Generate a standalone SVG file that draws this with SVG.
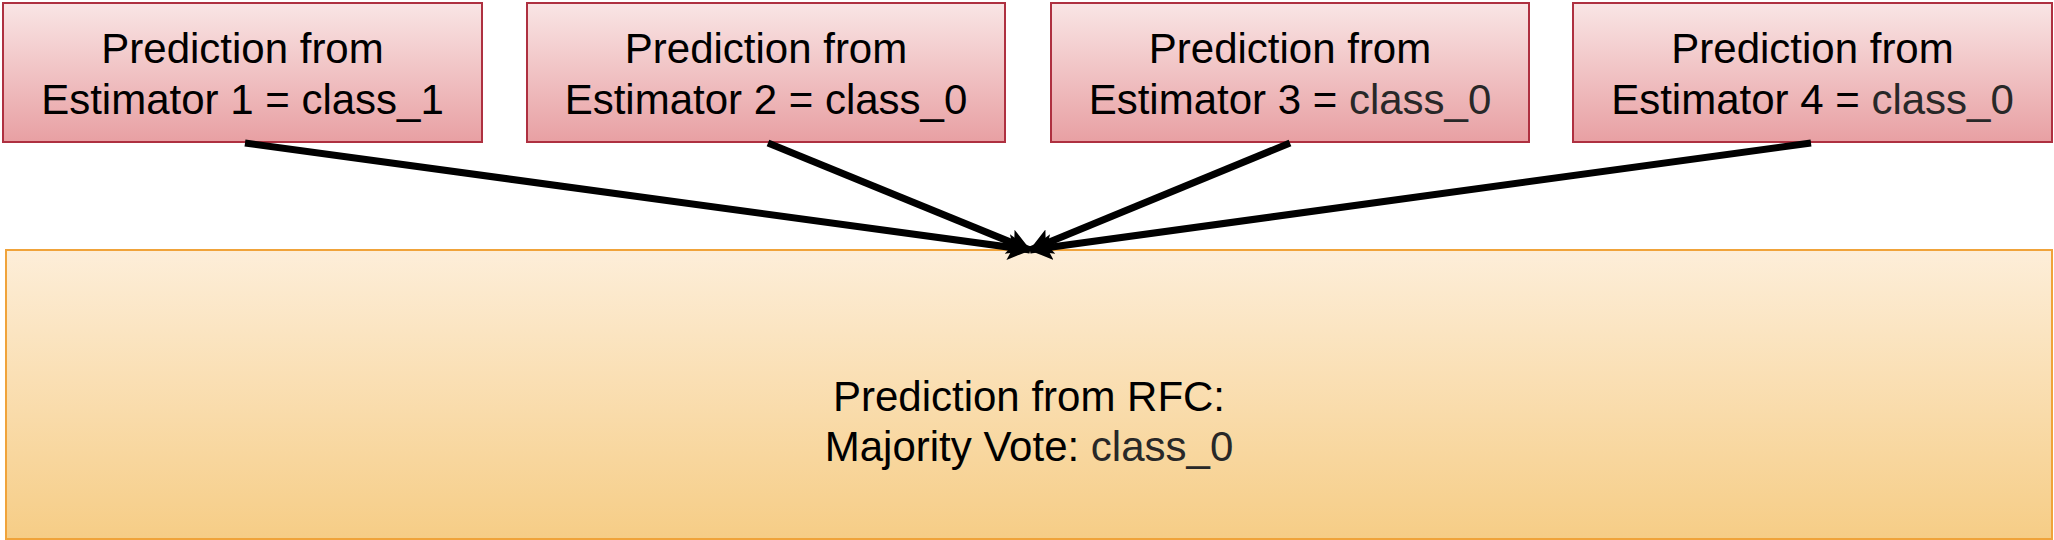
<svg xmlns="http://www.w3.org/2000/svg" width="2054" height="540" viewBox="0 0 2054 540">
  <defs>
    <linearGradient id="gRed" x1="0" y1="0" x2="0" y2="1">
      <stop offset="0" stop-color="#f9e5e5"/>
      <stop offset="1" stop-color="#e8a0a3"/>
    </linearGradient>
    <linearGradient id="gOrange" x1="0" y1="0" x2="0" y2="1">
      <stop offset="0" stop-color="#fdeed9"/>
      <stop offset="1" stop-color="#f6cd86"/>
    </linearGradient>
    <marker id="arrow" markerUnits="userSpaceOnUse" markerWidth="24" markerHeight="28" refX="22" refY="14" orient="auto" viewBox="0 0 24 28">
      <path d="M0,1 L23,14 L0,27 L5,14 Z" fill="#000"/>
    </marker>
  </defs>
  <style>
    .est rect { fill: url(#gRed); stroke: #ae3040; stroke-width: 2; }
    .res rect { fill: url(#gOrange); stroke: #f0a33a; stroke-width: 2; }
    text { font-family: "Liberation Sans", Arial, sans-serif; font-size: 42px; fill: #000; text-anchor: middle; }
    .g { fill: #282828; }
    .conn line { stroke: #000; stroke-width: 7; marker-end: url(#arrow); }
  </style>
  <rect width="2054" height="540" fill="#ffffff"/>

  <g id="result" class="res">
    <rect x="6" y="250" width="2046" height="289"/>
    <text x="1029" y="411">Prediction from RFC:</text>
    <text x="1029" y="461">Majority Vote: <tspan class="g">class_0</tspan></text>
  </g>

  <g id="est1" class="est">
    <rect x="3" y="3" width="479" height="139"/>
    <text x="242.5" y="63">Prediction from</text>
    <text x="242.5" y="114">Estimator 1 = class_1</text>
  </g>
  <g id="est2" class="est">
    <rect x="527" y="3" width="478" height="139"/>
    <text x="766" y="63">Prediction from</text>
    <text x="766" y="114">Estimator 2 = class_0</text>
  </g>
  <g id="est3" class="est">
    <rect x="1051" y="3" width="478" height="139"/>
    <text x="1290" y="63">Prediction from</text>
    <text x="1290" y="114">Estimator 3 = <tspan class="g">class_0</tspan></text>
  </g>
  <g id="est4" class="est">
    <rect x="1573" y="3" width="479" height="139"/>
    <text x="1812.5" y="63">Prediction from</text>
    <text x="1812.5" y="114">Estimator 4 = <tspan class="g">class_0</tspan></text>
  </g>

  <g id="connectors" class="conn">
    <line x1="245" y1="143" x2="1030" y2="250"/>
    <line x1="768" y1="143" x2="1030" y2="250"/>
    <line x1="1290" y1="143" x2="1030" y2="250"/>
    <line x1="1811" y1="143" x2="1030" y2="250"/>
  </g>
</svg>
